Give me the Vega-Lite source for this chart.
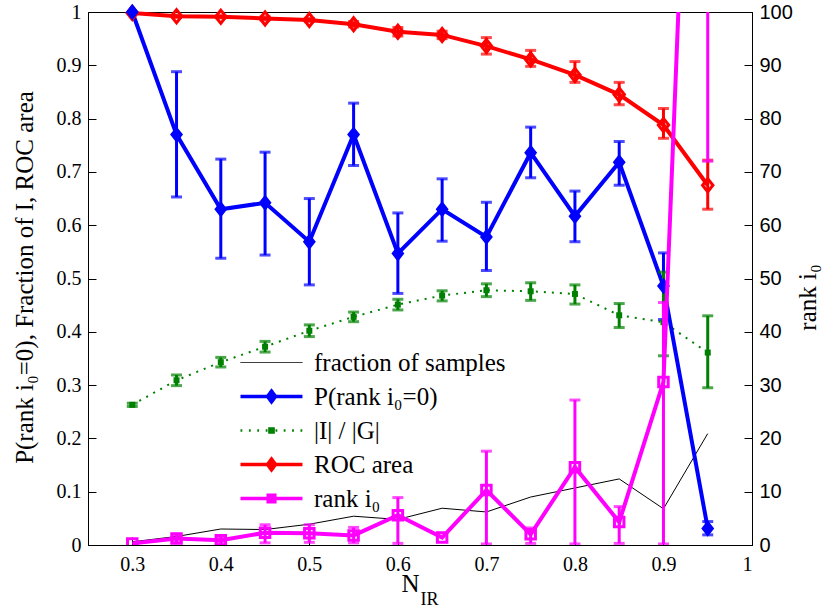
{
"$schema":"https://vega.github.io/schema/vega-lite/v6.json",
"autosize":{"type":"none"},
"padding":{"left":88,"top":12,"right":76,"bottom":63},
"width":664,"height":533,
"background":"white",
"data":{"values":[
{"s":"fraction of samples","N":0.3,"v":0.006},
{"s":"fraction of samples","N":0.35,"v":0.016},
{"s":"fraction of samples","N":0.4,"v":0.030},
{"s":"fraction of samples","N":0.45,"v":0.029},
{"s":"fraction of samples","N":0.5,"v":0.039},
{"s":"fraction of samples","N":0.55,"v":0.054},
{"s":"fraction of samples","N":0.6,"v":0.048},
{"s":"fraction of samples","N":0.65,"v":0.069},
{"s":"fraction of samples","N":0.7,"v":0.062},
{"s":"fraction of samples","N":0.75,"v":0.090},
{"s":"fraction of samples","N":0.8,"v":0.107},
{"s":"fraction of samples","N":0.85,"v":0.124},
{"s":"fraction of samples","N":0.9,"v":0.068},
{"s":"fraction of samples","N":0.95,"v":0.209},
{"s":"P(rank i₀=0)","N":0.3,"v":1.0},
{"s":"P(rank i₀=0)","N":0.35,"v":0.770,"lo":0.653,"hi":0.888},
{"s":"P(rank i₀=0)","N":0.4,"v":0.630,"lo":0.538,"hi":0.724},
{"s":"P(rank i₀=0)","N":0.45,"v":0.642,"lo":0.544,"hi":0.737},
{"s":"P(rank i₀=0)","N":0.5,"v":0.569,"lo":0.488,"hi":0.650},
{"s":"P(rank i₀=0)","N":0.55,"v":0.770,"lo":0.712,"hi":0.829},
{"s":"P(rank i₀=0)","N":0.6,"v":0.547,"lo":0.472,"hi":0.623},
{"s":"P(rank i₀=0)","N":0.65,"v":0.630,"lo":0.570,"hi":0.687},
{"s":"P(rank i₀=0)","N":0.7,"v":0.578,"lo":0.515,"hi":0.643},
{"s":"P(rank i₀=0)","N":0.75,"v":0.736,"lo":0.689,"hi":0.784},
{"s":"P(rank i₀=0)","N":0.8,"v":0.617,"lo":0.569,"hi":0.664},
{"s":"P(rank i₀=0)","N":0.85,"v":0.718,"lo":0.675,"hi":0.757},
{"s":"P(rank i₀=0)","N":0.9,"v":0.486,"lo":0.423,"hi":0.548},
{"s":"P(rank i₀=0)","N":0.95,"v":0.031,"lo":0.019,"hi":0.044},
{"s":"|I| / |G|","N":0.3,"v":0.263,"lo":0.260,"hi":0.266},
{"s":"|I| / |G|","N":0.35,"v":0.309,"lo":0.299,"hi":0.319},
{"s":"|I| / |G|","N":0.4,"v":0.343,"lo":0.334,"hi":0.352},
{"s":"|I| / |G|","N":0.45,"v":0.372,"lo":0.362,"hi":0.382},
{"s":"|I| / |G|","N":0.5,"v":0.402,"lo":0.391,"hi":0.413},
{"s":"|I| / |G|","N":0.55,"v":0.428,"lo":0.419,"hi":0.437},
{"s":"|I| / |G|","N":0.6,"v":0.451,"lo":0.441,"hi":0.461},
{"s":"|I| / |G|","N":0.65,"v":0.468,"lo":0.458,"hi":0.477},
{"s":"|I| / |G|","N":0.7,"v":0.478,"lo":0.466,"hi":0.490},
{"s":"|I| / |G|","N":0.75,"v":0.476,"lo":0.459,"hi":0.492},
{"s":"|I| / |G|","N":0.8,"v":0.471,"lo":0.452,"hi":0.488},
{"s":"|I| / |G|","N":0.85,"v":0.431,"lo":0.408,"hi":0.453},
{"s":"|I| / |G|","N":0.9,"v":0.418,"lo":0.355,"hi":0.512},
{"s":"|I| / |G|","N":0.95,"v":0.361,"lo":0.295,"hi":0.430},
{"s":"ROC area","N":0.3,"v":0.998},
{"s":"ROC area","N":0.35,"v":0.992,"lo":0.990,"hi":0.994},
{"s":"ROC area","N":0.4,"v":0.991,"lo":0.989,"hi":0.993},
{"s":"ROC area","N":0.45,"v":0.988,"lo":0.985,"hi":0.991},
{"s":"ROC area","N":0.5,"v":0.985,"lo":0.982,"hi":0.988},
{"s":"ROC area","N":0.55,"v":0.977,"lo":0.972,"hi":0.982},
{"s":"ROC area","N":0.6,"v":0.963,"lo":0.955,"hi":0.971},
{"s":"ROC area","N":0.65,"v":0.957,"lo":0.950,"hi":0.964},
{"s":"ROC area","N":0.7,"v":0.936,"lo":0.921,"hi":0.952},
{"s":"ROC area","N":0.75,"v":0.911,"lo":0.898,"hi":0.928},
{"s":"ROC area","N":0.8,"v":0.882,"lo":0.868,"hi":0.907},
{"s":"ROC area","N":0.85,"v":0.845,"lo":0.826,"hi":0.868},
{"s":"ROC area","N":0.9,"v":0.788,"lo":0.763,"hi":0.819},
{"s":"ROC area","N":0.95,"v":0.675,"lo":0.630,"hi":0.722},
{"s":"rank i₀","N":0.3,"v":0.3},
{"s":"rank i₀","N":0.35,"v":1.2,"lo":0.5,"hi":1.9},
{"s":"rank i₀","N":0.4,"v":0.9,"lo":0.3,"hi":1.5},
{"s":"rank i₀","N":0.45,"v":2.3,"lo":0.4,"hi":3.8},
{"s":"rank i₀","N":0.5,"v":2.2,"lo":0.5,"hi":3.8},
{"s":"rank i₀","N":0.55,"v":1.8,"lo":0.4,"hi":3.3},
{"s":"rank i₀","N":0.6,"v":5.6,"lo":0.3,"hi":8.9},
{"s":"rank i₀","N":0.65,"v":1.4},
{"s":"rank i₀","N":0.7,"v":10.3,"lo":0.2,"hi":17.6},
{"s":"rank i₀","N":0.75,"v":2.0,"lo":0.3,"hi":3.2},
{"s":"rank i₀","N":0.8,"v":14.6,"lo":0.2,"hi":27.2},
{"s":"rank i₀","N":0.85,"v":4.3,"lo":0.3,"hi":7.2},
{"s":"rank i₀","N":0.9,"v":30.6,"lo":0.2,"hi":45.5},
{"s":"rank i₀","N":0.95,"v":237,"lo":72,"hi":400}
]},
"resolve":{"scale":{"y":"independent"},"axis":{"x":"independent"}},
"layer":[
{
"transform":[{"filter":"datum.s !== 'rank i₀'"}],
"encoding":{
 "x":{"field":"N","type":"quantitative","scale":{"domain":[0.25,1],"nice":false},
   "axis":{"orient":"bottom","title":"N","values":[0.3,0.4,0.5,0.6,0.7,0.8,0.9,1],"format":"~g","labelFont":"Liberation Serif, DejaVu Serif, serif","labelFontSize":20,"tickSize":-8,"labelPadding":17,"titleFont":"Liberation Serif, DejaVu Serif, serif","titleFontSize":25,"titleX":322,"titleY":46,"titleBaseline":"alphabetic","titleAlign":"center"}},
 "y":{"field":"v","type":"quantitative","scale":{"domain":[0,1],"nice":false},
   "axis":{"title":"P(rank i₀=0), Fraction of I, ROC area","values":[0,0.1,0.2,0.3,0.4,0.5,0.6,0.7,0.8,0.9,1],"format":"~g","labelFont":"Liberation Serif, DejaVu Serif, serif","labelFontSize":20,"tickSize":-8,"labelPadding":15,"titleFont":"Liberation Serif, DejaVu Serif, serif","titleFontSize":25,"titleX":-56,"titleY":265,"titleAngle":270,"titleBaseline":"alphabetic","titleAlign":"center"}}
},
"layer":[
 {"transform":[{"filter":"datum.s == 'fraction of samples'"}],
  "mark":{"type":"line","strokeWidth":1},
  "encoding":{"color":{"field":"s","type":"nominal",
    "scale":{"domain":["fraction of samples","P(rank i₀=0)","|I| / |G|","ROC area","rank i₀"],"range":["#000000","#0000ff","#008000","#ff0000","#ff00ff"]},
    "legend":{"orient":"none","legendX":146,"legendY":338,"title":null,"labelFont":"Liberation Serif, DejaVu Serif, serif","labelFontSize":25,"labelColor":"black","labelOffset":55,"labelLimit":400,"symbolSize":144,"rowPadding":8,"padding":0,
      "encoding":{"symbols":{
        "shape":{"value":{"expr":"datum.value == 'fraction of samples' ? 'M-1,0H9.33' : datum.value == '|I| / |G|' ? 'M-1,0H-0.7M0.4,0H0.7M1.8,0H2.1M3.2,0H3.5M4.84,0H5.14M6.2,0H6.5M7.6,0H7.9M9,0H9.3M3.82,-0.35H4.52V0.35H3.82Z' : datum.value == 'rank i₀' ? 'M-1,0H9.33M3.62,-0.55H4.72V0.55H3.62Z' : 'M-1,0H9.33M4.17,-0.9L4.84,0L4.17,0.9L3.5,0Z'"}},
        "fill":{"value":"transparent"},
        "strokeWidth":{"value":{"expr":"datum.value == 'fraction of samples' ? 1 : datum.value == '|I| / |G|' ? 2.5 : 3.5"}},
        "strokeDash":{"value":[1,0]}
      }}}}}},
 {"transform":[{"filter":"datum.s == '|I| / |G|'"}],
  "mark":{"type":"line","strokeWidth":2,"strokeDash":[2,6]},
  "encoding":{"color":{"field":"s","type":"nominal"}}},
 {"transform":[{"filter":"datum.s == 'ROC area'"}],
  "mark":{"type":"line","strokeWidth":4},
  "encoding":{"color":{"field":"s","type":"nominal"}}},
 {"transform":[{"filter":"datum.s == 'P(rank i₀=0)'"}],
  "mark":{"type":"line","strokeWidth":4},
  "encoding":{"color":{"field":"s","type":"nominal"}}},
 {"transform":[{"filter":"isValid(datum.lo)"}],
  "mark":{"type":"rule","strokeWidth":3},
  "encoding":{"y":{"field":"lo","type":"quantitative","title":"P(rank i₀=0), Fraction of I, ROC area"},"y2":{"field":"hi"},"color":{"field":"s","type":"nominal"}}},
 {"transform":[{"filter":"isValid(datum.lo)"}],
  "mark":{"type":"tick","orient":"horizontal","thickness":3,"size":11},
  "encoding":{"y":{"field":"lo","type":"quantitative","title":"P(rank i₀=0), Fraction of I, ROC area"},"color":{"field":"s","type":"nominal"}}},
 {"transform":[{"filter":"isValid(datum.hi)"}],
  "mark":{"type":"tick","orient":"horizontal","thickness":3,"size":11},
  "encoding":{"y":{"field":"hi","type":"quantitative","title":"P(rank i₀=0), Fraction of I, ROC area"},"color":{"field":"s","type":"nominal"}}},
 {"transform":[{"filter":"datum.s == '|I| / |G|'"}],
  "mark":{"type":"point","shape":"square","filled":true,"size":36,"opacity":1,"color":"#008000"}},
 {"transform":[{"filter":"datum.s == 'ROC area'"}],
  "mark":{"type":"point","shape":"M0,-1.2L0.95,0L0,1.2L-0.95,0Z","filled":false,"size":120,"strokeWidth":3,"opacity":1,"color":"#ff0000"}},
 {"transform":[{"filter":"datum.s == 'P(rank i₀=0)'"}],
  "mark":{"type":"point","shape":"M0,-1.2L0.95,0L0,1.2L-0.95,0Z","filled":true,"size":120,"strokeWidth":2,"stroke":"#0000ff","opacity":1,"color":"#0000ff"}}
]
},
{
"transform":[{"filter":"datum.s == 'rank i₀'"}],
"encoding":{
 "x":{"field":"N","type":"quantitative","scale":{"domain":[0.25,1],"nice":false},
   "axis":{"orient":"bottom","title":"IR","labels":false,"ticks":false,"domain":false,"titleFont":"Liberation Serif, DejaVu Serif, serif","titleFontSize":18,"titleX":332,"titleY":59,"titleBaseline":"alphabetic","titleAlign":"left"}},
 "y":{"field":"v","type":"quantitative","scale":{"domain":[0,100],"nice":false},
   "axis":{"orient":"right","title":"rank i₀","values":[0,10,20,30,40,50,60,70,80,90,100],"labelFont":"Liberation Sans, Arial, sans-serif","labelFontSize":20,"tickSize":-8,"labelPadding":15,"titleFont":"Liberation Serif, DejaVu Serif, serif","titleFontSize":25,"titleX":63,"titleY":285,"titleAngle":270,"titleBaseline":"alphabetic","titleAlign":"center"}}
},
"layer":[
 {"mark":{"type":"line","strokeWidth":4,"clip":true},
  "encoding":{"color":{"field":"s","type":"nominal"}}},
 {"transform":[{"filter":"isValid(datum.lo)"}],
  "mark":{"type":"rule","strokeWidth":3,"clip":true,"color":"#ff00ff"},
  "encoding":{"y":{"field":"lo","type":"quantitative","title":"rank i₀"},"y2":{"field":"hi"}}},
 {"transform":[{"filter":"isValid(datum.lo)"}],
  "mark":{"type":"tick","orient":"horizontal","thickness":3,"size":11,"clip":true,"color":"#ff00ff"},
  "encoding":{"y":{"field":"lo","type":"quantitative","title":"rank i₀"}}},
 {"transform":[{"filter":"isValid(datum.hi)"}],
  "mark":{"type":"tick","orient":"horizontal","thickness":3,"size":11,"clip":true,"color":"#ff00ff"},
  "encoding":{"y":{"field":"hi","type":"quantitative","title":"rank i₀"}}},
 {"mark":{"type":"point","shape":"square","filled":false,"size":90,"strokeWidth":3,"opacity":1,"clip":true,"color":"#ff00ff"}}
]
}
],
"config":{
 "view":{"stroke":"black","strokeWidth":1},
 "axis":{"grid":false,"domainColor":"black","tickColor":"black","labelColor":"black","titleColor":"black","titleFontWeight":"normal","domainWidth":1,"tickWidth":1}
}
}
